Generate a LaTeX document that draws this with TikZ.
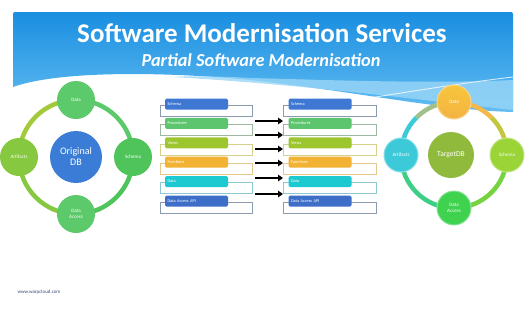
\documentclass[tikz,border=0pt]{standalone}
\usepackage{fontspec}
\setmainfont{Carlito}
\usetikzlibrary{arrows.meta,calc}
\definecolor{bantop}{HTML}{1A8EE0}
\definecolor{banbot}{HTML}{62BDF2}
\definecolor{banlight}{HTML}{9AD6F7}
\definecolor{cSchema}{HTML}{3F78D2}
\definecolor{cProc}{HTML}{5DC56E}
\definecolor{cViews}{HTML}{9CC52E}
\definecolor{cFunc}{HTML}{F2B234}
\definecolor{cData}{HTML}{1ECAD2}
\definecolor{cDAA}{HTML}{3D6FC9}
\definecolor{oSchema}{HTML}{8C9AB0}
\definecolor{oProc}{HTML}{9DB8A0}
\definecolor{oViews}{HTML}{D6D08A}
\definecolor{oFunc}{HTML}{E8C88A}
\definecolor{oData}{HTML}{8ACAD0}
\definecolor{oDAA}{HTML}{8C9AB0}
\definecolor{lg1}{HTML}{5CC96A}
\definecolor{lg2}{HTML}{4FC45B}
\definecolor{lg3}{HTML}{86C840}
\definecolor{lg4}{HTML}{A2CA3A}
\definecolor{origblue}{HTML}{3A7CD6}
\definecolor{rOr}{HTML}{F4B84A}
\definecolor{rGr}{HTML}{9AD436}
\definecolor{rCy}{HTML}{3CCAD8}
\definecolor{rGn}{HTML}{3ED24E}
\definecolor{rTgt}{HTML}{90BA3C}
\definecolor{footc}{HTML}{3A4A7A}
\tikzset{
  bar/.style={rounded corners=1.5pt, minimum height=11pt, text width=58pt, inner xsep=2.5pt, inner ysep=0pt,
    align=left, font=\fontsize{4.3}{5}\selectfont, text=white},
  outl/.style={line width=0.6pt},
  bigarrow/.style={line width=2.2pt, -{Triangle[length=5pt,width=6.5pt]}},
  smallc/.style={circle, inner sep=0pt, font=\fontsize{5}{5.5}\selectfont, text=white, align=center},
  ringarc/.style={line width=4.5pt},
}
\begin{document}
\begin{tikzpicture}[x=1pt,y=-1pt]
\useasboundingbox (0,0) rectangle (525,311);
\fill[white] (0,0) rectangle (525,311);
% banner
\shade[top color=bantop, bottom color=banbot]
  (13,87) -- (13,14) arc[start angle=180,end angle=270,radius=2] -- (511,12) arc[start angle=270,end angle=360,radius=2] -- (513,112)
  .. controls (440,110) and (360,92) .. (250,80) .. controls (170,72) and (60,70) .. (13,87) -- cycle;
\fill[banlight, opacity=0.8] (170,77) .. controls (300,84) and (420,100) .. (513,110) -- (513,80)
  .. controls (430,84) and (330,80) .. (250,78) .. controls (215,76) and (190,76) .. (170,77) -- cycle;
\draw[white, opacity=0.75, line width=0.9pt] (165,77) .. controls (280,84) and (350,94) .. (405,103);
\draw[white, opacity=0.75, line width=0.9pt] (350,101) .. controls (420,90) and (470,82) .. (513,77);
\node[font=\fontsize{27}{30}\selectfont\bfseries, text=white] (title) at (262,33) {Software Modernisation Services};
\node[font=\fontsize{18.3}{21}\selectfont\bfseries\itshape, text=white] (subtitle) at (261,60) {Partial Software Modernisation};

% left ring (local angles: 270 = top, 0 = right, 90 = bottom, 180 = left)
\coordinate (lc) at (76,157);
\draw[ringarc, lg1] (lc) ++(270:57) arc[start angle=270,end angle=360,radius=57];
\draw[ringarc, lg2] (lc) ++(0:57) arc[start angle=0,end angle=90,radius=57];
\draw[ringarc, lg3] (lc) ++(90:57) arc[start angle=90,end angle=180,radius=57];
\draw[ringarc, lg4] (lc) ++(180:57) arc[start angle=180,end angle=270,radius=57];
\node[smallc, minimum size=38pt, fill=lg1] (lData) at (76,100) {Data};
\node[smallc, minimum size=38pt, fill=lg2] (lSchema) at (133,157) {Schema};
\node[smallc, minimum size=38pt, fill=lg3] (lArt) at (19,157) {Artifacts};
\node[smallc, minimum size=38pt, fill=lg1] (lDA) at (76,214) {Data\\Access};
\node[smallc, minimum size=52pt, fill=origblue, font=\fontsize{10}{11}\selectfont] (orig) at (lc) {Original\\DB};

% right ring
\coordinate (rc) at (454,155);
\draw[ringarc, rOr] (rc) ++(270:53) arc[start angle=270,end angle=315,radius=53];
\draw[ringarc, rGr!55!rOr] (rc) ++(315:53) arc[start angle=315,end angle=360,radius=53];
\draw[ringarc, rGr!60!rGn] (rc) ++(0:53) arc[start angle=0,end angle=90,radius=53];
\draw[ringarc, rGn!60!rCy] (rc) ++(90:53) arc[start angle=90,end angle=180,radius=53];
\draw[ringarc, rCy] (rc) ++(180:53) arc[start angle=180,end angle=225,radius=53];
\draw[ringarc, rCy!45!rOr] (rc) ++(225:53) arc[start angle=225,end angle=270,radius=53];
\node[smallc, minimum size=34pt, top color=rOr!80!yellow, bottom color=rOr!90!orange, draw=rOr!60!white, line width=1pt] (rData) at (454,102) {Data};
\node[smallc, minimum size=34pt, fill=rGr, draw=rGr!60!white, line width=1pt] (rSchema) at (507,155) {Schema};
\node[smallc, minimum size=34pt, fill=rCy, draw=rCy!60!white, line width=1pt] (rArt) at (401,155) {Artifacts};
\node[smallc, minimum size=34pt, fill=rGn, draw=rGn!60!white, line width=1pt] (rDA) at (454,208) {Data\\Access};
\node[smallc, minimum size=46pt, fill=rTgt, font=\fontsize{7.5}{8}\selectfont] (tgt) at (451,155) {TargetDB};

% lists
\foreach \i/\lab/\c/\o in {0/Schema/cSchema/oSchema,1/Procedures/cProc/oProc,2/Views/cViews/oViews,3/Functions/cFunc/oFunc,4/Data/cData/oData,5/Data Access API/cDAA/oDAA}{
  \pgfmathsetmacro{\yy}{104+19.4*\i}
  \draw[outl, \o] (160,\yy+1) rectangle (252,\yy+12);
  \node[bar, fill=\c] (L\i) at (196.5,\yy) {\lab};
  \draw[outl, \o] (283,\yy+1) rectangle (376,\yy+12);
  \node[bar, fill=\c] (R\i) at (320,\yy) {\lab};
}

% arrows
\foreach \j/\ay in {1/121,2/135,3/149,4/163,5/178,6/194}{
  \coordinate (as\j) at (255,\ay);
  \coordinate (ae\j) at (283,\ay);
  \draw[bigarrow] (as\j) -- (ae\j);
}

\node[anchor=west, font=\fontsize{5}{6}\selectfont, text=footc] (foot) at (14,292) {www.warpcloud.com};
\end{tikzpicture}
\end{document}
